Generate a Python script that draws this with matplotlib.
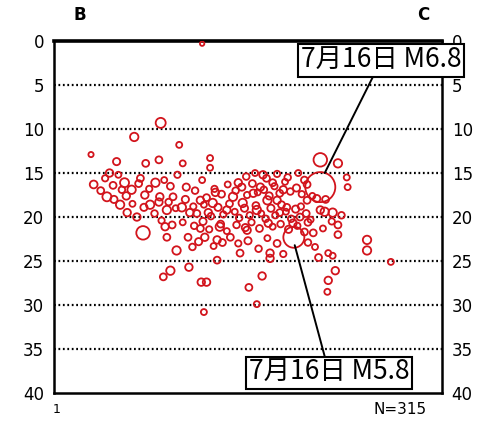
import numpy as np
import matplotlib
matplotlib.use("Agg")
import matplotlib.pyplot as plt
from matplotlib.text import Annotation

# hypocentres along profile B-C (horizontal distance km, depth km, magnitude)
big_x = [30.2, 27.2, 30.2, 10.1, 12.1]
big_depth = [16.6, 22.3, 13.5, 21.8, 9.3]
big_mag = [6.8, 5.8, 4.9, 4.9, 4.2]

outer_x = [16.8, 4.2, 9.1, 14.2, 7.1, 10.4, 11.9, 14.6, 17.7, 17.7, 32.2, 33.2, 33.3,
           35.5, 35.5, 38.2, 12.4, 13.2, 15.3, 16.7, 17.3, 17.0, 22.1, 23.6, 23.0,
           24.5, 31.9, 31.1, 31.0, 31.6, 30.7, 31.6, 32.2, 32.2, 31.1, 18.5, 21.1,
           24.5, 13.9]
outer_depth = [0.3, 12.9, 10.9, 11.8, 13.7, 13.9, 13.5, 13.9, 13.3, 14.4, 13.9, 15.5, 16.6,
               22.6, 23.8, 25.1, 26.8, 26.1, 25.7, 27.4, 27.4, 30.8, 28.0, 26.7, 29.9,
               24.7, 26.1, 27.2, 28.5, 24.4, 19.4, 19.5, 20.9, 22.0, 24.1, 24.9, 24.1,
               24.1, 23.8]
outer_mag = [2.6, 2.8, 3.8, 3.0, 3.4, 3.3, 3.3, 3.0, 3.0, 3.0, 3.8, 3.0, 3.0,
             3.8, 3.8, 3.0, 3.3, 3.8, 3.5, 3.5, 3.5, 3.0, 3.3, 3.5, 3.0,
             3.5, 3.5, 3.5, 3.0, 3.0, 3.8, 3.8, 3.3, 3.3, 3.0, 3.3, 3.3,
             3.5, 3.8]

core_x = [6.3, 6.0, 6.7, 8.0, 8.8, 7.5, 8.3, 9.4, 7.3, 9.8, 10.3, 10.9, 11.5, 12.0,
          12.8, 12.6, 12.8, 13.5, 14.5, 15.2, 15.4, 16.6, 16.6, 17.1, 17.5, 18.0,
          18.3, 18.5, 18.8, 19.6, 20.0, 20.3, 20.9, 21.4, 21.9, 22.6, 23.0, 23.4,
          23.7, 24.2, 24.3, 24.8, 25.3, 25.6, 26.0, 26.4, 27.1, 27.9, 28.7, 29.4,
          30.2, 28.8,
          13.0, 13.8, 14.9, 15.8, 16.2, 17.0, 17.8, 18.6, 19.2, 19.9, 20.5, 21.0,
          21.6, 22.2, 22.9, 23.5, 24.0, 24.6, 25.1, 25.8, 26.3, 26.9, 27.4, 28.0,
          28.6, 29.1,
          18.2, 19.0, 19.7, 20.6, 21.3, 21.9, 22.5, 23.1, 23.8, 24.4, 25.0, 25.6,
          26.2, 26.8, 27.5, 28.1, 28.7, 29.3,
          21.8, 22.8, 24.1, 25.3, 26.5, 27.7, 28.4,
          12.2, 13.4, 14.6, 15.9, 16.9, 17.6, 18.9, 19.6, 20.7, 21.7, 22.4, 23.3,
          24.8, 25.7, 26.6, 27.6, 28.4,
          15.7, 16.4, 18.1, 19.1, 20.9, 22.0, 23.2, 24.2, 25.3, 26.0, 28.8, 29.6, 30.0,
          4.5, 5.3, 5.8, 6.8, 7.7, 8.2, 8.9, 9.6, 10.2, 10.8, 11.4, 11.9, 12.5, 13.2,
          14.0, 15.0, 16.0, 16.8, 17.3,
          30.8, 31.5, 29.8, 30.5, 32.6]
core_depth = [15.0, 17.7, 16.4, 16.1, 16.9, 18.6, 19.5, 20.0, 15.2, 15.6, 17.5, 18.6, 16.1, 17.7,
              19.2, 21.1, 22.3, 17.7, 18.9, 22.3, 19.5, 18.1, 21.3, 22.3, 19.5, 18.4,
              17.2, 22.6, 21.1, 19.2, 22.3, 17.7, 16.1, 18.4, 21.5, 17.3, 19.2, 16.6,
              15.2, 18.1, 20.7, 16.1, 18.1, 19.5, 16.9, 18.9, 20.7, 20.0, 18.1, 21.8,
              19.2, 20.6,
              18.3, 19.0, 18.0, 18.8, 19.6, 18.6, 19.9, 18.9, 19.7, 18.5, 19.4, 20.1,
              19.0, 19.8, 18.7, 19.6, 20.2, 19.0, 19.8, 18.6, 19.4, 20.2, 19.1, 18.8,
              19.6, 20.3,
              16.8, 17.4, 16.3, 17.0, 16.6, 17.5, 16.2, 17.2, 16.9, 17.6, 16.5, 17.3,
              16.0, 17.1, 16.7, 17.4, 16.3, 17.6,
              15.4, 15.0, 15.6, 15.1, 15.5, 15.0, 15.8,
              20.4, 20.9, 20.6, 21.0, 20.5, 21.4, 20.8, 21.6, 20.9, 21.2, 20.6, 21.3,
              21.1, 20.8, 21.4, 21.0, 21.7,
              23.4, 22.8, 23.3, 22.9, 23.0, 22.7, 23.6, 22.4, 23.0, 24.2, 22.9, 23.4, 24.6,
              16.3, 17.0, 15.6, 18.0, 16.9, 17.6, 18.5, 16.2, 18.9, 16.8, 19.6, 18.3, 15.8, 16.5,
              15.2, 16.6, 17.0, 15.8, 17.8,
              18.0, 20.5, 17.9, 21.3, 19.8]
core_mag = [3.5, 4.0, 3.3, 4.0, 3.8, 3.8, 3.5, 3.5, 3.0, 3.3, 3.5, 3.8, 3.8, 3.5,
            3.8, 3.5, 3.3, 3.3, 3.8, 3.3, 3.5, 3.5, 3.3, 3.5, 3.5, 3.8,
            3.5, 3.5, 3.8, 3.5, 3.3, 3.8, 3.5, 3.8, 3.5, 3.5, 3.8, 3.5,
            3.5, 3.8, 3.5, 3.3, 3.5, 3.3, 3.5, 3.3, 3.5, 3.3, 3.3, 3.3,
            3.5, 3.3,
            3.2, 3.0, 3.4, 3.1, 3.3, 3.0, 3.2, 3.4, 3.1, 3.3, 3.0, 3.2,
            3.4, 3.1, 3.3, 3.0, 3.2, 3.4, 3.1, 3.3, 3.0, 3.2, 3.4, 3.1,
            3.3, 3.0,
            3.1, 3.3, 3.0, 3.2, 3.4, 3.1, 3.3, 3.0, 3.2, 3.4, 3.1, 3.3,
            3.0, 3.2, 3.4, 3.1, 3.3, 3.0,
            3.2, 3.0, 3.3, 3.1, 3.2, 3.0, 3.3,
            3.1, 3.3, 3.0, 3.2, 3.4, 3.1, 3.3, 3.0, 3.2, 3.4, 3.1, 3.3,
            3.0, 3.2, 3.4, 3.1, 3.3,
            3.2, 3.4, 3.0, 3.3, 3.1, 3.4, 3.2, 3.0, 3.3, 3.1, 3.2, 3.0, 3.3,
            3.6, 3.3, 3.1, 3.4, 3.2, 3.5, 3.0, 3.3, 3.4, 3.1, 3.2, 3.5, 3.0, 3.3,
            3.1, 3.4, 3.2, 3.0, 3.3,
            3.3, 3.1, 3.4, 3.0, 3.2]

depth_ticks = [0, 5, 10, 15, 20, 25, 30, 35, 40]
label_68 = "7月16日 M6.8"
label_58 = "7月16日 M5.8"
count_label = "N=315"

RED = "#d2141c"


def marker_size(mag):
    # diameter in pixels, converted to points^2
    diam_px = np.interp(mag, [2.5, 3.0, 4.0, 5.0, 5.8, 6.8], [4, 6, 9, 14, 21, 30])
    return (diam_px * 0.72) ** 2


fig = plt.figure(figsize=(4.82, 4.21), dpi=100)
ax = fig.add_axes([0.112, 0.0665, 0.805, 0.836])

xs = core_x + outer_x + big_x
ds = core_depth + outer_depth + big_depth
ms = core_mag + outer_mag + big_mag
ax.scatter(xs, ds, s=marker_size(np.array(ms)), facecolors="none",
           edgecolors=RED, linewidths=1.3, zorder=3)

ax.set_xlim(0, 44)
ax.set_ylim(40, 0)
ax.set_yticks(depth_ticks)
ax.set_xticks([])
ax.tick_params(axis="y", length=0, labelsize=12, pad=7,
               left=True, right=True, labelleft=True, labelright=True)

for d in depth_ticks[1:-1]:
    ax.axhline(d, color="black", lw=1.6, ls=(0, (0.8, 1.2)), zorder=1)

for side in ["left", "right", "bottom"]:
    ax.spines[side].set_linewidth(1.8)
ax.spines["top"].set_linewidth(2.6)

fig.text(0.166, 0.965, "B", fontsize=12, fontweight="bold", ha="center", va="center")
fig.text(0.878, 0.965, "C", fontsize=12, fontweight="bold", ha="center", va="center")
fig.text(0.118, 0.027, "1", fontsize=9, ha="center", va="center")
fig.text(0.83, 0.027, count_label, fontsize=11, ha="center", va="center")

# callouts go on the figure so the boxes sit above the right-hand tick labels
for label, target, place in [(label_68, (30.7, 15.0), (37.1, 2.2)),
                             (label_58, (27.3, 23.2), (31.2, 37.7))]:
    ann = Annotation(label, xy=target, xytext=place,
                     xycoords=ax.transData, textcoords=ax.transData,
                     ha="center", va="center", fontsize=19,
                     family=["Noto Sans CJK JP", "DejaVu Sans"],
                     bbox=dict(boxstyle="square,pad=0.1", fc="white", ec="black", lw=1.5),
                     arrowprops=dict(arrowstyle="-", color="black", lw=1.4,
                                     shrinkA=0, shrinkB=0),
                     annotation_clip=False)
    fig.add_artist(ann)

fig.savefig("out.png", dpi=100)
